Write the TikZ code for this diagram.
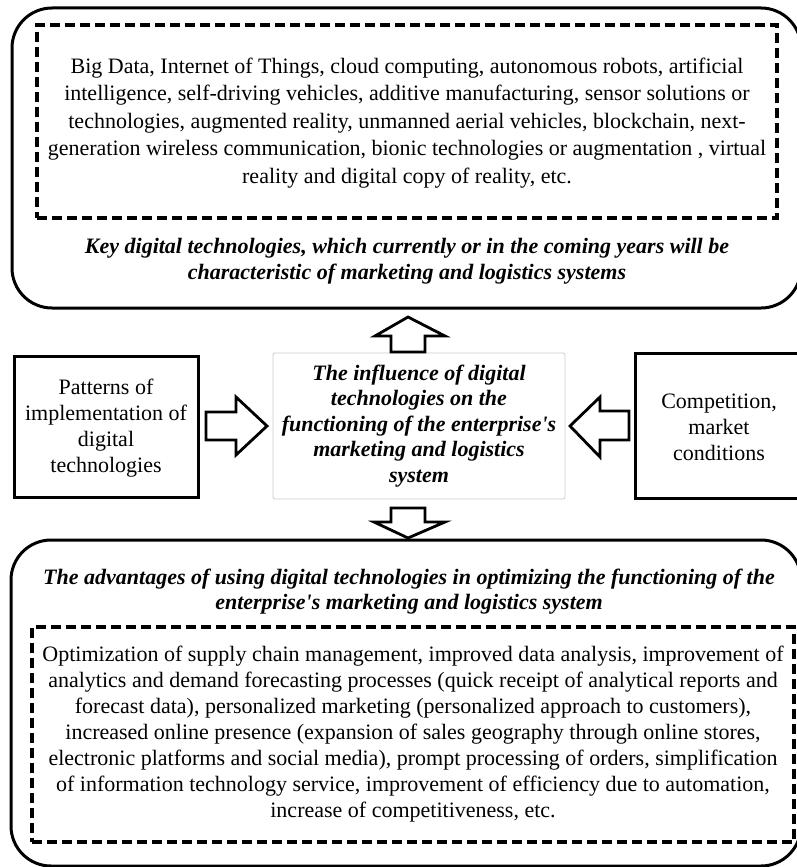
\documentclass[tikz,border=0pt]{standalone}
\usepackage{fontspec}
\setmainfont{Liberation Serif}[Ligatures=TeXOff]
\begin{document}
\begin{tikzpicture}[x=1pt,y=-1pt,
  outerbox/.style={draw, line width=3pt, rounded corners=40pt, inner sep=0pt},
  dashbox/.style={draw, line width=3.2pt, dash pattern=on 10pt off 5pt, inner sep=0pt},
  plainbox/.style={draw, line width=3pt, fill=white, inner sep=0pt},
  lightbox/.style={draw=black!20, line width=0.8pt, fill=white, rounded corners=2pt, inner sep=0pt},
  bodytext/.style={align=center, inner sep=0pt, font=\fontsize{22}{26}\selectfont},
  headtext/.style={align=center, inner sep=0pt, font=\fontsize{22}{25.5}\selectfont\bfseries\itshape},
  blockarrow/.style={draw, line width=2.8pt, fill=white, line join=miter}]
\useasboundingbox (0,0) rectangle (797,867);

% upper block: key technologies
\node[outerbox, minimum width=789pt, minimum height=300pt] (topframe) at (406.5,158) {};
\node[dashbox, minimum width=740pt, minimum height=193pt] (topdash) at (407,121.5) {};
\node[bodytext, font=\fontsize{22}{27.5}\selectfont] (toplist) at (407,123) {Big Data, Internet of Things, cloud computing, autonomous robots, artificial\\
intelligence, self-driving vehicles, additive manufacturing, sensor solutions or\\
technologies, augmented reality, unmanned aerial vehicles, blockchain, next-\\
generation wireless communication, bionic technologies or augmentation , virtual\\
reality and digital copy of reality, etc.};
\node[headtext] (toptitle) at (407,261) {Key digital technologies, which currently or in the coming years will be\\
characteristic of marketing and logistics systems};

% middle row
\node[plainbox, minimum width=184pt, minimum height=141pt] (patterns) at (106,426.5) {};
\node[bodytext] (patternstext) at (106,428) {Patterns of\\implementation of\\digital\\technologies};
\node[lightbox, minimum width=292pt, minimum height=146pt] (influence) at (419,426) {};
\node[headtext] (influencetext) at (influence.center) {The influence of digital\\technologies on the\\functioning of the enterprise's\\marketing and logistics\\system};
\node[plainbox, minimum width=170pt, minimum height=145pt] (competition) at (720,425.5) {};
\node[bodytext] (competitiontext) at (719,427) {Competition,\\market\\conditions};

% lower block: advantages
\node[outerbox, minimum width=790pt, minimum height=326pt] (botframe) at (406,703) {};
\node[headtext] (bottitle) at (409,591.5) {The advantages of using digital technologies in optimizing the functioning of the\\
enterprise's marketing and logistics system};
\node[dashbox, minimum width=762pt, minimum height=215pt] (botdash) at (413,734.5) {};
\node[bodytext] (botlist) at (botdash.center) {Optimization of supply chain management, improved data analysis, improvement of\\
analytics and demand forecasting processes (quick receipt of analytical reports and\\
forecast data), personalized marketing (personalized approach to customers),\\
increased online presence (expansion of sales geography through online stores,\\
electronic platforms and social media), prompt processing of orders, simplification\\
of information technology service, improvement of efficiency due to automation,\\
increase of competitiveness, etc.};

% block arrows
\draw[blockarrow] (391,352) -- (391,336) -- (375,336) -- (408,317)
  -- (445,336) -- (425,336) -- (425,352) -- cycle;
\draw[blockarrow] (391,508) -- (391,522) -- (374,522) -- (408,538)
  -- (445,522) -- (425,522) -- (425,508) -- cycle;
\draw[blockarrow] (206,412) -- (236,412) -- (236,397) -- (267,426)
  -- (236,455) -- (236,440) -- (206,440) -- cycle;
\draw[blockarrow] (629,411) -- (600,411) -- (600,397) -- (570,426)
  -- (600,457) -- (600,440) -- (629,440) -- cycle;
\end{tikzpicture}
\end{document}
